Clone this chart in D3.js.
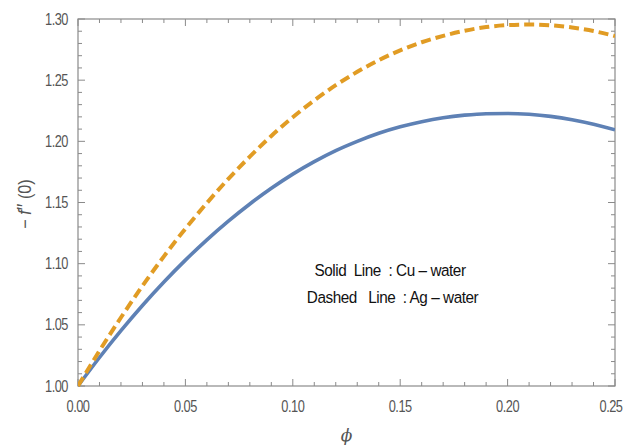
<!DOCTYPE html>
<html><head><meta charset="utf-8">
<script src="https://cdn.jsdelivr.net/npm/d3@7"></script>
<style>body{margin:0;background:#fff}svg{display:block}</style>
</head><body>
<script>
const phi = [0,0.01,0.02,0.03,0.04,0.05,0.06,0.07,0.08,0.09,0.10,0.11,0.12,0.13,0.14,0.15,0.16,0.17,0.18,0.19,0.20,0.21,0.22,0.23,0.24,0.25];
const cuWater = [1.0000,1.0233,1.0452,1.0658,1.0850,1.1029,1.1195,1.1348,1.1488,1.1616,1.1732,1.1834,1.1924,1.2000,1.2066,1.2119,1.2161,1.2193,1.2214,1.2226,1.2228,1.2221,1.2204,1.2177,1.2140,1.2094];
const agWater = [1.0000,1.0288,1.0560,1.0818,1.1060,1.1286,1.1496,1.1693,1.1875,1.2044,1.2197,1.2335,1.2459,1.2568,1.2663,1.2744,1.2810,1.2862,1.2904,1.2934,1.2950,1.2955,1.2949,1.2931,1.2902,1.2860];
const xTicks = [0,0.05,0.10,0.15,0.20,0.25];
const yTicks = [1.00,1.05,1.10,1.15,1.20,1.25,1.30];
const legendLines = ["Solid  Line  : Cu \u2013 water","Dashed   Line  : Ag \u2013 water"];

const W=626,H=446, L=78, R=615, T=19, B=386;
const svg=d3.select("body").append("svg").attr("width",W).attr("height",H);
const x=d3.scaleLinear().domain([0,0.25]).range([L,R]);
const y=d3.scaleLinear().domain([1,1.3]).range([B,T]);
const font="'Liberation Sans',Arial,sans-serif";
const axCol="#8a8a8a", txtCol="#555";
const SX=0.8;

const minorX=d3.range(0,26).map(i=>i/100);
const minorY=d3.range(0,31).map(i=>1+i/100);
const isMajor=v=>Math.abs(Math.round(v*20)-v*20)<1e-6;

const g=svg.append("g");
function ticks(vals, scale, pos, dir, orient){
  g.append("g").selectAll("line").data(vals).join("line")
   .attr(orient==="x"?"x1":"y1",d=>scale(d)).attr(orient==="x"?"x2":"y2",d=>scale(d))
   .attr(orient==="x"?"y1":"x1",pos)
   .attr(orient==="x"?"y2":"x2",d=>pos+dir*(isMajor(d)?7:4))
   .attr("stroke",axCol).attr("stroke-width",1);
}
ticks(minorX,x,B,-1,"x");
ticks(minorX,x,T,1,"x");
ticks(minorY,y,L,1,"y");
ticks(minorY,y,R,-1,"y");
g.append("rect").attr("x",L).attr("y",T).attr("width",R-L).attr("height",B-T)
  .attr("fill","none").attr("stroke",axCol).attr("stroke-width",1.2);

// tick labels (condensed)
g.append("g").selectAll("text").data(xTicks).join("text")
 .attr("transform",(d,i)=>`translate(${i===xTicks.length-1?x(d)-4:x(d)},${B+26}) scale(${SX},1)`)
 .attr("text-anchor","middle")
 .attr("font-family",font).attr("font-size",16).attr("fill",txtCol)
 .attr("letter-spacing","-0.6").text(d=>d.toFixed(2));
g.append("g").selectAll("text").data(yTicks).join("text")
 .attr("transform",d=>`translate(${L-10},${y(d)+5.5}) scale(${SX},1)`)
 .attr("text-anchor","end")
 .attr("font-family",font).attr("font-size",16).attr("fill",txtCol)
 .attr("letter-spacing","-0.6").text(d=>d.toFixed(2));

// axis titles
svg.append("text").attr("x",(L+R)/2).attr("y",441).attr("text-anchor","middle")
 .attr("font-family","'DejaVu Serif',serif").attr("font-style","italic").attr("font-size",17).attr("fill",txtCol).text("\u03d5");
const yt=svg.append("text").attr("transform",`translate(31,204) rotate(-90) scale(0.9,1)`)
 .attr("text-anchor","middle").attr("font-family",font).attr("font-size",18).attr("fill",txtCol);
yt.append("tspan").text("\u2212 ");
yt.append("tspan").attr("font-style","italic").text("f");
yt.append("tspan").attr("font-size",20).text("\u2032\u2032");
yt.append("tspan").text(" (0)");

// lines
const line=arr=>d3.line().x((d,i)=>x(phi[i])).y(d=>y(d)).curve(d3.curveMonotoneX)(arr);
svg.append("clipPath").attr("id","c").append("rect").attr("x",L).attr("y",T-3).attr("width",R-L).attr("height",B-T+6);
svg.append("path").attr("d",line(cuWater)).attr("fill","none").attr("stroke","#5e81b5").attr("stroke-width",3.6).attr("clip-path","url(#c)");
svg.append("path").attr("d",line(agWater)).attr("fill","none").attr("stroke","#e19c24").attr("stroke-width",4).attr("stroke-dasharray","10,5").attr("clip-path","url(#c)");

// legend text
svg.append("g").selectAll("text").data(legendLines).join("text")
 .attr("transform",(d,i)=>`translate(${i===0?390:392.5},${276+i*27}) scale(0.9,1)`)
 .attr("text-anchor","middle")
 .attr("font-family",font).attr("font-size",17).attr("fill","#111").attr("letter-spacing","-0.5")
 .style("white-space","pre").text(d=>d);
</script>
</body></html>
